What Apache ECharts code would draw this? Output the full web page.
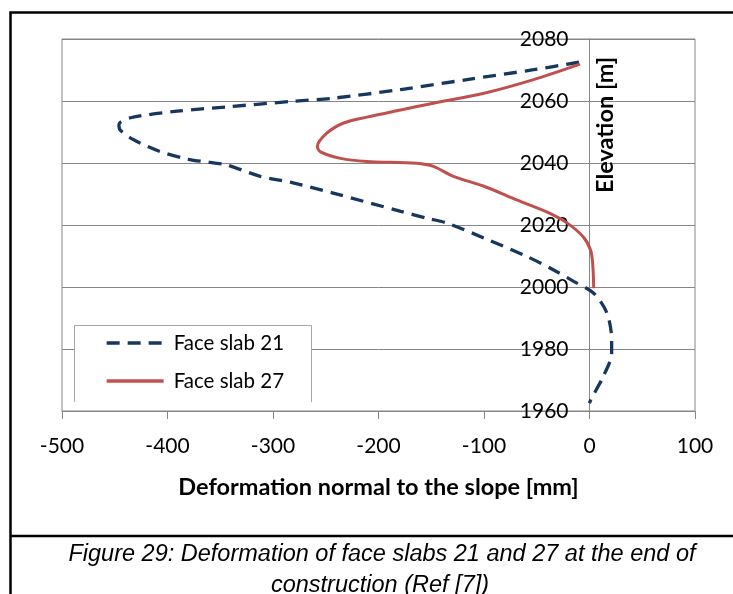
<!DOCTYPE html>
<html>
<head>
<meta charset="utf-8">
<script src="https://cdn.jsdelivr.net/npm/echarts@6/dist/echarts.min.js"></script>
<style>html,body{margin:0;padding:0;background:#fff}#c{width:733px;height:594px}</style>
</head>
<body>
<div id="c"></div>
<script>
// Data (deformation [mm], elevation [m])
const seriesNames = ['Face slab 21', 'Face slab 27'];
const slab21 = [
  [-10, 2072.5], [-53, 2070.1], [-116, 2066.9], [-179, 2063.7], [-243, 2060.9], [-281, 2059.9],
  [-344, 2058.1], [-391, 2056.7], [-435, 2054.6], [-446, 2052.5], [-445, 2050.7], [-432, 2047.5],
  [-407, 2043.7], [-380, 2041.2], [-360, 2040.2], [-344, 2039.4], [-312, 2035.7], [-281, 2033.6],
  [-243, 2030.3], [-179, 2024.4], [-154, 2022.2], [-135, 2020.6], [-100, 2015.8], [-59, 2009.8],
  [-34, 2005.5], [-15, 2001.8], [4, 1998.0], [16.5, 1991.6], [21, 1983], [21, 1978.7],
  [13, 1971.1], [1, 1963.5], [0, 1962.5]
];
const slab27 = [
  [-9, 2071.9], [-53, 2066.9], [-100, 2062.5], [-148, 2059.3], [-179, 2057.1], [-211, 2054.8],
  [-233, 2052.9], [-249, 2049.6], [-258, 2045.3], [-255, 2043.6], [-236, 2041.5], [-211, 2040.5],
  [-164, 2039.9], [-148, 2038.9], [-129, 2035.7], [-100, 2032.5], [-69, 2028.1], [-37, 2023.7],
  [-21, 2020.6], [-6, 2016.2], [1, 2011.9], [3, 2007.6], [4, 1999.6]
];
const xTicks = { min: -500, max: 100, interval: 100 };
const yTicks = { min: 1960, max: 2080, interval: 20 };
const xAxisTitle = 'Deformation normal to the slope [mm]';
const yAxisTitle = 'Elevation [m]';
const captionLines = ['Figure 29: Deformation of face slabs 21 and 27 at the end of', 'construction (Ref [7])'];

const font = "Lato, 'Open Sans', sans-serif";
const gray = '#868686';
const gridLeft = 62, gridRight = 38;
const plotW = 733 - gridLeft - gridRight;
// y axis crosses the x axis at deformation 0
const yAxisOffset = -plotW * (0 - xTicks.min) / (xTicks.max - xTicks.min);

const chart = echarts.init(document.getElementById('c'), null, { renderer: 'canvas' });
chart.setOption({
  animation: false,
  backgroundColor: '#fff',
  grid: { left: gridLeft, right: gridRight, top: 39, bottom: 183, show: true, borderColor: gray, borderWidth: 1,
          containLabel: false, outerBoundsMode: 'none' },
  xAxis: {
    type: 'value', min: xTicks.min, max: xTicks.max, interval: xTicks.interval,
    axisLine: { onZero: false, lineStyle: { color: gray, width: 1 } },
    axisTick: { show: true, length: 8, lineStyle: { color: gray } },
    axisLabel: { color: '#000', fontSize: 21, fontFamily: font, margin: 25 },
    splitLine: { show: false },
    name: xAxisTitle, nameLocation: 'middle', nameGap: 64,
    nameTextStyle: { color: '#000', fontSize: 23.5, fontWeight: 'bold', fontFamily: font }
  },
  yAxis: {
    type: 'value', min: yTicks.min, max: yTicks.max, interval: yTicks.interval,
    position: 'left', offset: yAxisOffset,
    axisLine: { show: true, onZero: false, lineStyle: { color: gray, width: 1 } },
    axisTick: { show: false },
    axisLabel: { color: '#000', fontSize: 21, fontFamily: font, margin: 21, formatter: v => String(v) },
    splitLine: { show: true, lineStyle: { color: gray, width: 1 } }
  },
  legend: {
    orient: 'vertical', left: 105, top: 332, itemGap: 16,
    itemWidth: 57, itemHeight: 14, padding: 0,
    itemStyle: { opacity: 0 },
    lineStyle: { width: 3.3 },
    textStyle: { color: '#000', fontSize: 20.5, fontFamily: font, lineHeight: 22, padding: [0, 0, 0, 5] },
    data: seriesNames
  },
  series: [
    { name: seriesNames[0], type: 'line', data: slab21, symbol: 'none', smooth: 0.3,
      lineStyle: { color: '#17375E', width: 3.3, type: [13, 8] }, itemStyle: { color: '#17375E' } },
    { name: seriesNames[1], type: 'line', data: slab27, symbol: 'none', smooth: 0.3,
      lineStyle: { color: '#C0504D', width: 3 }, itemStyle: { color: '#C0504D' } }
  ],
  graphic: [
    { type: 'rect', z: 3, shape: { x: 74, y: 325, width: 238, height: 77 }, style: { fill: '#fff', stroke: null } },
    { type: 'polyline', z: 3, shape: { points: [[74.5, 402], [74.5, 325.5], [311.5, 325.5], [311.5, 402]] },
      style: { fill: null, stroke: '#a6a6a6', lineWidth: 1 } },
    { type: 'text', z: 5, x: 605, y: 125, rotation: Math.PI / 2,
      style: { text: yAxisTitle, fill: '#000', fontSize: 23.5, fontWeight: 'bold', fontFamily: font, align: 'center', verticalAlign: 'middle' } },
    { type: 'polyline', z: 5, shape: { points: [[10.5, 594], [10.5, 12.5], [733, 12.5]] },
      style: { fill: null, stroke: '#000', lineWidth: 2.5 } },
    { type: 'line', z: 5, shape: { x1: 10, y1: 536, x2: 733, y2: 536 }, style: { stroke: '#000', lineWidth: 2.5 } },
    { type: 'text', z: 5, x: 382, y: 554,
      style: { text: captionLines[0], fill: '#000', fontSize: 23.5, fontStyle: 'italic', fontFamily: "'Liberation Sans', Arial, sans-serif", align: 'center', verticalAlign: 'middle' } },
    { type: 'text', z: 5, x: 380, y: 585,
      style: { text: captionLines[1], fill: '#000', fontSize: 23.5, fontStyle: 'italic', fontFamily: "'Liberation Sans', Arial, sans-serif", align: 'center', verticalAlign: 'middle' } }
  ]
});
</script>
</body>
</html>
